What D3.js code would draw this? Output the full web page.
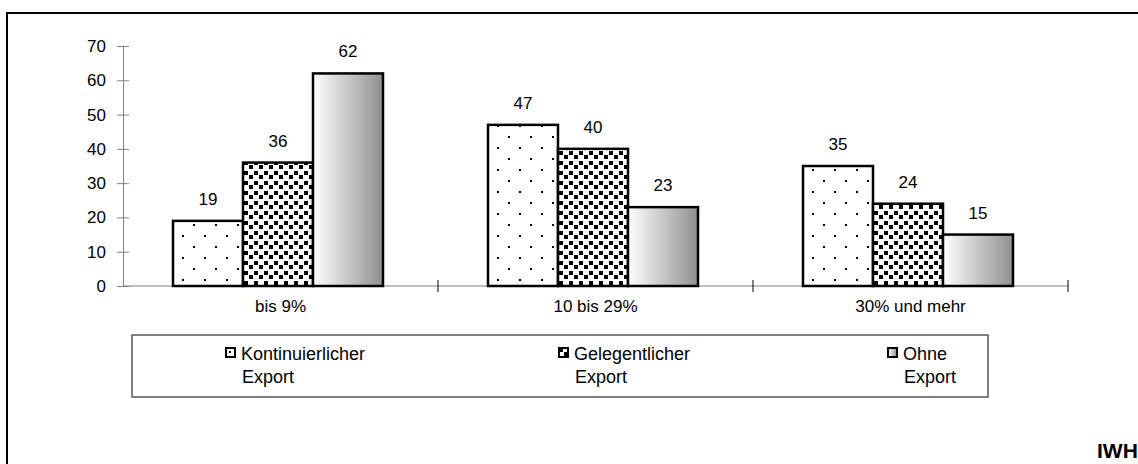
<!DOCTYPE html>
<html>
<head>
<meta charset="utf-8">
<script src="https://cdn.jsdelivr.net/npm/d3@7"></script>
<style>
  body { margin: 0; background: #fff; }
  svg text { font-family: "Liberation Sans", Arial, sans-serif; fill: #000; }
</style>
</head>
<body>
<div id="chart"></div>
<script>
// data
const groups = ["bis 9%", "10 bis 29%", "30% und mehr"];
const seriesNames = ["Kontinuierlicher Export", "Gelegentlicher Export", "Ohne Export"];
const kontinuierlich = [19, 47, 35];
const gelegentlich = [36, 40, 24];
const ohne = [62, 23, 15];
const yTicks = [0, 10, 20, 30, 40, 50, 60, 70];

const W = 1138, H = 464;

const svg = d3.select("#chart")
  .append("svg")
    .attr("width", W)
    .attr("height", H);

// patterns and gradient
const defs = svg.append("defs");

const dots = defs.append("pattern")
  .attr("id", "dots")
  .attr("patternUnits", "userSpaceOnUse")
  .attr("width", 22).attr("height", 22);
dots.append("rect").attr("width", 22).attr("height", 22).attr("fill", "#fff");
dots.append("rect").attr("x", 4).attr("y", 4).attr("width", 2).attr("height", 2).attr("fill", "#000");
dots.append("rect").attr("x", 15).attr("y", 15).attr("width", 2).attr("height", 2).attr("fill", "#000");

const checks = defs.append("pattern")
  .attr("id", "checks")
  .attr("patternUnits", "userSpaceOnUse")
  .attr("width", 10).attr("height", 10);
checks.append("rect").attr("width", 10).attr("height", 10).attr("fill", "#fff");
checks.append("rect").attr("x", 1).attr("y", 1).attr("width", 4).attr("height", 4).attr("fill", "#000");
checks.append("rect").attr("x", 6).attr("y", 5).attr("width", 4).attr("height", 4).attr("fill", "#000");

const grad = defs.append("linearGradient")
  .attr("id", "grey")
  .attr("x1", "0%").attr("x2", "100%").attr("y1", "0%").attr("y2", "0%");
grad.append("stop").attr("offset", "0%").attr("stop-color", "#ffffff");
grad.append("stop").attr("offset", "100%").attr("stop-color", "#8f8f8f");

const fills = ["url(#dots)", "url(#checks)", "url(#grey)"];

// outer frame (runs off the right and bottom edge)
svg.append("rect")
  .attr("x", 7).attr("y", 13)
  .attr("width", 1250).attr("height", 600)
  .attr("fill", "none")
  .attr("stroke", "#000")
  .attr("stroke-width", 2);

// scales
const x = d3.scaleBand()
  .domain(groups)
  .range([123, 1068])
  .padding(0);

const xSub = d3.scaleBand()
  .domain(seriesNames)
  .range([50, 260])
  .padding(0);

const y = d3.scaleLinear()
  .domain([0, 70])
  .range([286, 46]);

// Y axis
const yAxis = svg.append("g")
  .attr("transform", `translate(${x.range()[0]},0)`)
  .call(d3.axisLeft(y).tickValues(yTicks).tickSize(6).tickPadding(11));
yAxis.select(".domain").attr("stroke", "#808080");
yAxis.selectAll(".tick line").attr("stroke", "#808080").attr("x1", 6).attr("x2", -6);
yAxis.selectAll(".tick text").style("font-size", "17px");

// X axis
const xAxis = svg.append("g")
  .attr("transform", `translate(0,${y(0)})`)
  .call(d3.axisBottom(x).tickSize(0).tickPadding(14));
xAxis.select(".domain").attr("stroke", "#808080").attr("d", `M${x.range()[0]},0H${x.range()[1]}`);
xAxis.selectAll(".tick text").style("font-size", "17px");

// boundary ticks between categories
const bounds = groups.map(g => x(g)).concat([x.range()[1]]);
svg.append("g").selectAll("line")
  .data(bounds.slice(1))
  .join("line")
    .attr("x1", d => d).attr("x2", d => d)
    .attr("y1", y(0) - 6).attr("y2", y(0) + 6)
    .attr("stroke", "#000");

// bars
const rows = groups.map((g, i) => ({
  group: g,
  values: [kontinuierlich[i], gelegentlich[i], ohne[i]]
}));

const gGroups = svg.append("g").selectAll("g")
  .data(rows)
  .join("g")
    .attr("transform", d => `translate(${x(d.group)},0)`);

gGroups.selectAll("rect")
  .data(d => d.values.map((v, j) => ({ key: seriesNames[j], value: v, j: j })))
  .join("rect")
    .attr("x", d => xSub(d.key))
    .attr("y", d => y(d.value))
    .attr("width", xSub.bandwidth())
    .attr("height", d => y(0) - y(d.value))
    .attr("fill", d => fills[d.j])
    .attr("stroke", "#000")
    .attr("stroke-width", 2.5);

gGroups.selectAll("text.val")
  .data(d => d.values.map((v, j) => ({ key: seriesNames[j], value: v })))
  .join("text")
    .attr("class", "val")
    .attr("x", d => xSub(d.key) + xSub.bandwidth() / 2)
    .attr("y", d => y(d.value) - 16)
    .attr("text-anchor", "middle")
    .style("font-size", "17px")
    .text(d => d.value);

// legend box: grey top/left, black bottom/right
const legend = svg.append("g");
legend.append("rect")
  .attr("x", 132).attr("y", 335)
  .attr("width", 856).attr("height", 62)
  .attr("fill", "#fff")
  .attr("stroke", "#000")
  .attr("stroke-width", 1);
legend.append("path")
  .attr("d", "M132.5,396.5V335.5H987.5")
  .attr("fill", "none")
  .attr("stroke", "#808080")
  .attr("stroke-width", 1);

const legendX = [225, 558, 887];
const items = legend.selectAll("g")
  .data(seriesNames)
  .join("g")
    .attr("transform", (d, i) => `translate(${legendX[i]},347)`);

items.append("rect")
  .attr("x", 1).attr("y", 1)
  .attr("width", 9).attr("height", 9)
  .attr("fill", (d, i) => fills[i])
  .attr("stroke", "#000")
  .attr("stroke-width", 2);

items.append("text")
  .attr("x", 16)
  .attr("y", 13)
  .style("font-size", "18px")
  .text(d => d.split(" ")[0]);

items.append("text")
  .attr("x", 17)
  .attr("y", 36)
  .style("font-size", "18px")
  .text(d => d.split(" ")[1]);

// source mark
svg.append("text")
  .attr("x", 1097)
  .attr("y", 458)
  .style("font-size", "21px")
  .style("font-weight", "bold")
  .text("IWH");
</script>
</body>
</html>
